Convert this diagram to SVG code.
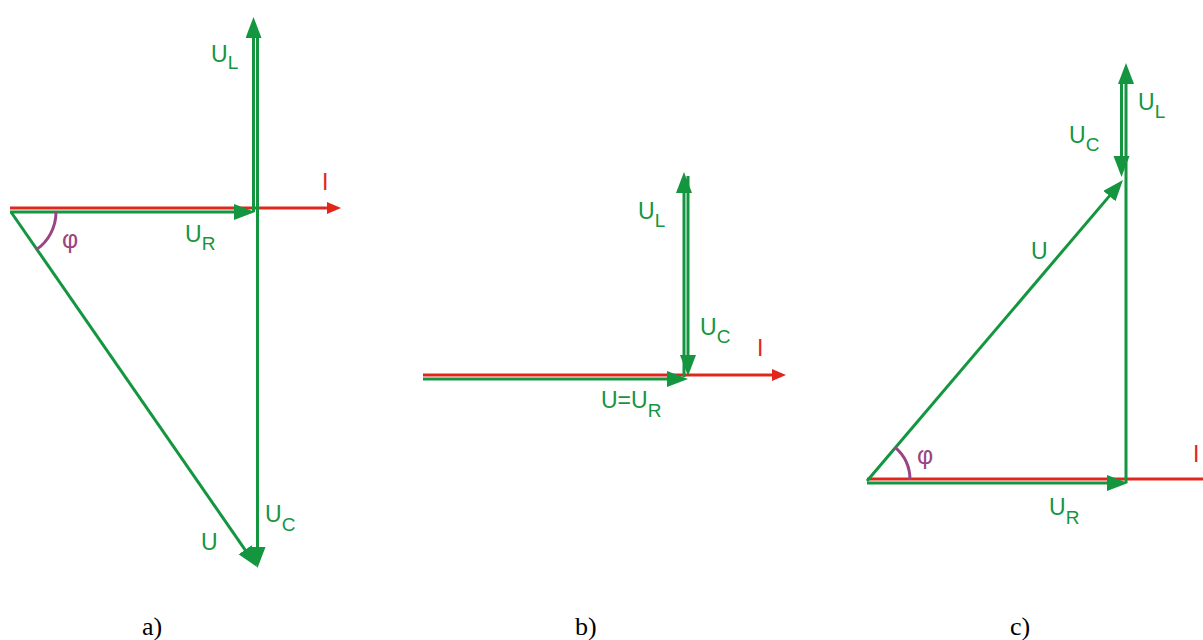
<svg xmlns="http://www.w3.org/2000/svg" width="1203" height="640" viewBox="0 0 1203 640">
<style>
.g{stroke:#13963f;stroke-width:3;fill:none}
.r{stroke:#e1261c;stroke-width:3;fill:none}
.phi{stroke:#9a4583;stroke-width:3;fill:none}
.ga{marker-end:url(#ag)}
.ra{marker-end:url(#ar)}
.lg{font-family:"Liberation Sans",Arial,sans-serif;font-size:23px;fill:#13963f}
.lr{font-family:"Liberation Sans",Arial,sans-serif;font-size:23px;fill:#e1261c}
.lp{font-family:"Liberation Sans",Arial,sans-serif;font-size:25px;fill:#9a4583}
.sub{font-size:19px}
.cap{font-family:"Liberation Serif","Times New Roman",serif;font-size:26px;fill:#000}
</style>
<defs>
<marker id="ag" markerUnits="userSpaceOnUse" markerWidth="22" markerHeight="18" refX="15" refY="8" orient="auto">
<path d="M0,0 L21,8 L0,16 Z" fill="#13963f"/>
</marker>
<marker id="ar" markerUnits="userSpaceOnUse" markerWidth="16" markerHeight="14" refX="8" refY="6" orient="auto">
<path d="M0,0 L14,6 L0,12 Z" fill="#e1261c"/>
</marker>
</defs>

<g id="connectors">
<!-- panel a -->
<line class="r ra" x1="10" y1="208" x2="335" y2="208"/>
<line class="g ga" x1="10" y1="212" x2="249" y2="212"/>
<line class="g ga" x1="253.5" y1="212" x2="253.5" y2="23"/>
<line class="g ga" x1="257.5" y1="33" x2="257.5" y2="562"/>
<line class="g ga" x1="11" y1="212" x2="253.6" y2="562.1"/>
<path class="phi" d="M56,212 A46,46 0 0 1 36.2,249.8"/>
<!-- panel b -->
<line class="r ra" x1="423" y1="375" x2="780" y2="375"/>
<line class="g ga" x1="423" y1="379" x2="682" y2="379"/>
<line class="g ga" x1="684" y1="377" x2="684" y2="178"/>
<line class="g ga" x1="688" y1="176" x2="688" y2="370"/>
<!-- panel c -->
<line class="r" x1="867" y1="479" x2="1203" y2="479"/>
<line class="g ga" x1="867" y1="483" x2="1122" y2="483"/>
<line class="g ga" x1="1126" y1="483" x2="1126" y2="69"/>
<line class="g ga" x1="1121.5" y1="82" x2="1121.5" y2="171"/>
<line class="g ga" x1="867" y1="481" x2="1119.1" y2="184.6"/>
<path class="phi" d="M910,480 A43,43 0 0 0 894.9,447.2"/>
</g>

<g id="labels-a">
<text class="lr" x="322" y="190">I</text>
<text class="lg" x="185" y="242">U<tspan class="sub" dy="8">R</tspan></text>
<text class="lg" x="211" y="62">U<tspan class="sub" dy="7">L</tspan></text>
<text class="lg" x="265" y="522">U<tspan class="sub" dy="9">C</tspan></text>
<text class="lg" x="201" y="550">U</text>
<text class="lp" x="62" y="248">φ</text>
</g>

<g id="labels-b">
<text class="lr" x="757" y="356">I</text>
<text class="lg" x="638" y="219">U<tspan class="sub" dy="8">L</tspan></text>
<text class="lg" x="700" y="335">U<tspan class="sub" dy="8">C</tspan></text>
<text class="lg" x="601" y="408">U=U<tspan class="sub" dy="9">R</tspan></text>
</g>

<g id="labels-c">
<text class="lr" x="1193" y="462">I</text>
<text class="lg" x="1138" y="110">U<tspan class="sub" dy="8">L</tspan></text>
<text class="lg" x="1069" y="143">U<tspan class="sub" dy="8">C</tspan></text>
<text class="lg" x="1031" y="259">U</text>
<text class="lg" x="1049" y="515">U<tspan class="sub" dy="9">R</tspan></text>
<text class="lp" x="917" y="464">φ</text>
</g>

<g id="captions">
<text class="cap" x="142" y="635">a)</text>
<text class="cap" x="575" y="635">b)</text>
<text class="cap" x="1010" y="635">c)</text>
</g>
</svg>
